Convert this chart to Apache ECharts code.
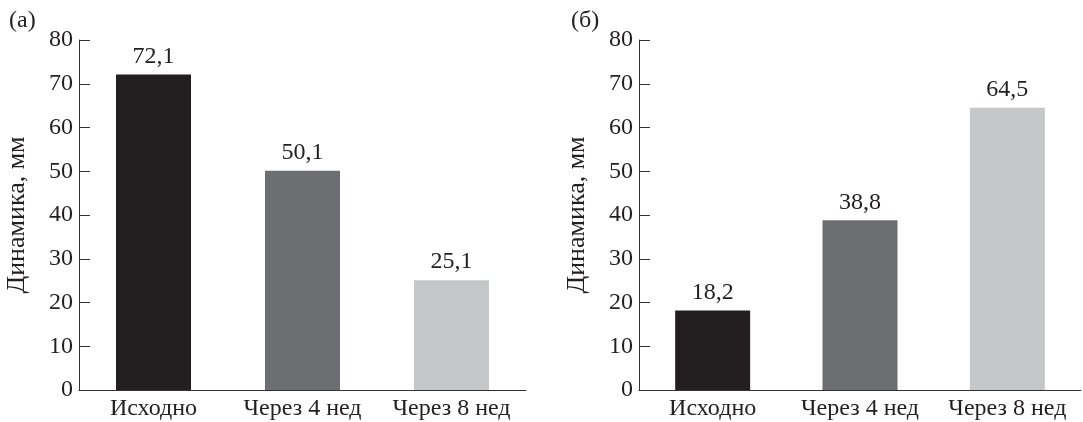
<!DOCTYPE html>
<html>
<head>
<meta charset="utf-8">
<script src="https://cdn.jsdelivr.net/npm/echarts@6/dist/echarts.min.js"></script>
<style>html,body{margin:0;padding:0;background:#fff}#c{width:1083px;height:422px}</style>
</head>
<body>
<div id="c"></div>
<script>
const categories = ['Исходно', 'Через 4 нед', 'Через 8 нед'];
const valuesA = [72.1, 50.1, 25.1];
const valuesB = [18.2, 38.8, 64.5];
const colors = ['#231f20', '#6d6e71', '#c6c7c8'];
const yName = 'Динамика, мм';
const panelLabels = ['(а)', '(б)'];

const FONT = 'Liberation Serif';
const FS = 24;
const TXT = '#231f20';
const chart = echarts.init(document.getElementById('c'), null, {renderer: 'canvas'});

function mkX(gi) {
  return {
    type: 'category', gridIndex: gi, data: categories,
    axisLine: {lineStyle: {color: '#333', width: 1}},
    axisTick: {show: false},
    axisLabel: {color: TXT, fontFamily: FONT, fontSize: FS, margin: 7, interval: 0}
  };
}
function mkY(gi) {
  return {
    type: 'value', gridIndex: gi, min: 0, max: 80, interval: 10,
    name: yName, nameLocation: 'middle', nameGap: 49, nameRotate: 90,
    nameTextStyle: {color: TXT, fontFamily: FONT, fontSize: 26},
    axisLine: {show: true, lineStyle: {color: '#333', width: 1}},
    axisTick: {show: true, inside: true, length: 11, lineStyle: {color: '#333'}},
    splitLine: {show: false},
    axisLabel: {color: TXT, fontFamily: FONT, fontSize: FS, margin: 6}
  };
}
function mkS(gi, vals) {
  return {
    type: 'bar', xAxisIndex: gi, yAxisIndex: gi, barWidth: 75,
    data: vals.map((v, i) => ({value: v, itemStyle: {color: colors[i]}})),
    label: {show: true, position: 'top', distance: 6, color: TXT, fontFamily: FONT, fontSize: FS,
      formatter: p => String(p.value).replace('.', ',')}
  };
}

chart.setOption({
  animation: false,
  title: [
    {text: panelLabels[0], left: 4, top: 4, textStyle: {color: TXT, fontFamily: FONT, fontSize: FS, fontWeight: 'normal'}},
    {text: panelLabels[1], left: 566, top: 4, textStyle: {color: TXT, fontFamily: FONT, fontSize: FS, fontWeight: 'normal'}}
  ],
  grid: [
    {left: 79, right: 557, top: 40, bottom: 32},
    {left: 639, right: 2, top: 40, bottom: 32}
  ],
  xAxis: [mkX(0), mkX(1)],
  yAxis: [mkY(0), mkY(1)],
  series: [mkS(0, valuesA), mkS(1, valuesB)]
});
</script>
</body>
</html>
